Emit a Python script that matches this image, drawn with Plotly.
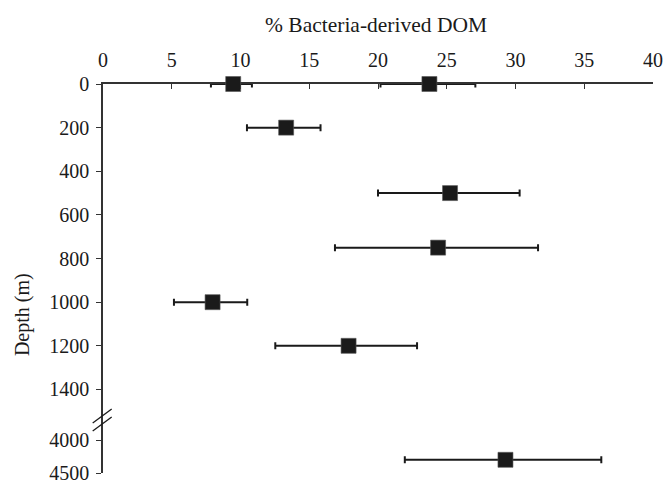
import plotly.graph_objects as go

# Data
depth_m = [0, 0, 200, 500, 750, 1000, 1200, 4300]
bacteria_dom_pct = [9.47, 23.74, 13.32, 25.24, 24.37, 7.97, 17.86, 29.27]
err_minus = [1.62, 3.56, 2.85, 5.24, 7.50, 2.81, 5.33, 7.32]
err_plus = [1.36, 3.34, 2.50, 5.06, 7.27, 2.52, 4.98, 6.97]

upper_ticks = [0, 200, 400, 600, 800, 1000, 1200, 1400]
lower_ticks = [4000, 4500]
x_ticks = [0, 5, 10, 15, 20, 25, 30, 35, 40]

BREAK = 2000
up_idx = [i for i, d in enumerate(depth_m) if d < BREAK]
lo_idx = [i for i, d in enumerate(depth_m) if d >= BREAK]

FONT = "Liberation Serif"
INK = "#1a1a1a"
AX = "#333333"

def trace(idx, yaxis):
    return go.Scatter(
        x=[bacteria_dom_pct[i] for i in idx],
        y=[depth_m[i] for i in idx],
        mode="markers",
        yaxis=yaxis,
        marker=dict(symbol="square", size=15, color=INK,
                    line=dict(color="#555555", width=0.6)),
        error_x=dict(type="data", symmetric=False,
                     array=[err_plus[i] for i in idx],
                     arrayminus=[err_minus[i] for i in idx],
                     color=INK, thickness=2, width=3.5),
        cliponaxis=False,
        showlegend=False,
    )

fig = go.Figure([trace(up_idx, "y"), trace(lo_idx, "y2")])

W, H = 665, 486
ML, MT = 103, 84
BOTTOM = 473
PW, PH = 550.5, BOTTOM - 84
MR = W - ML - PW
MB = H - BOTTOM

split = (BOTTOM - 420) / PH
common = dict(tickcolor=AX, tickwidth=1.2, showline=True, linecolor=AX,
              linewidth=1.5, showgrid=False, zeroline=False,
              layer="below traces", ticklabeloverflow="allow",
              tickfont=dict(family=FONT, size=20, color=INK))
fig.update_layout(
    width=W, height=H,
    margin=dict(l=ML, r=MR, t=MT, b=MB, autoexpand=False),
    paper_bgcolor="white", plot_bgcolor="white",
    font=dict(family=FONT, size=20, color=INK),
    xaxis=dict(range=[0, 40], side="top", anchor="y", tickvals=x_ticks,
               ticks="inside", ticklen=5, ticklabelstandoff=7, **common),
    yaxis=dict(domain=[split, 1], range=[1540, 0], tickvals=upper_ticks,
               ticks="outside", ticklen=5, ticklabelstandoff=3, **common),
    yaxis2=dict(domain=[0, split], range=[4500, 3697], tickvals=lower_ticks,
                anchor="x", ticks="outside", ticklen=5, ticklabelstandoff=3,
                **common),
    annotations=[
        dict(text="% Bacteria-derived DOM", xref="paper", yref="paper",
             x=0.497, y=1 + (84 - 25) / PH, xanchor="center", yanchor="middle",
             showarrow=False, font=dict(family=FONT, size=21.5, color=INK)),
        dict(text="Depth (m)", xref="paper", yref="paper",
             x=(22 - 103) / PW, y=(BOTTOM - 315) / PH, xanchor="center", yanchor="middle",
             textangle=-90, showarrow=False,
             font=dict(family=FONT, size=20, color=INK)),
    ],
    shapes=[
        dict(type="line", xref="paper", yref="paper",
             x0=-0.0187, y0=split + (4 - 7) / PH, x1=0.0158, y1=split + (4 + 7) / PH,
             line=dict(color=INK, width=1.3)),
        dict(type="line", xref="paper", yref="paper",
             x0=-0.0187, y0=split + (-4 - 7) / PH, x1=0.0158, y1=split + (-4 + 7) / PH,
             line=dict(color=INK, width=1.3)),
    ],
)

fig.write_html("out.html", include_plotlyjs=True,
               config={"displayModeBar": False},
               post_script="document.body.style.margin='0';document.body.style.overflow='hidden';")
